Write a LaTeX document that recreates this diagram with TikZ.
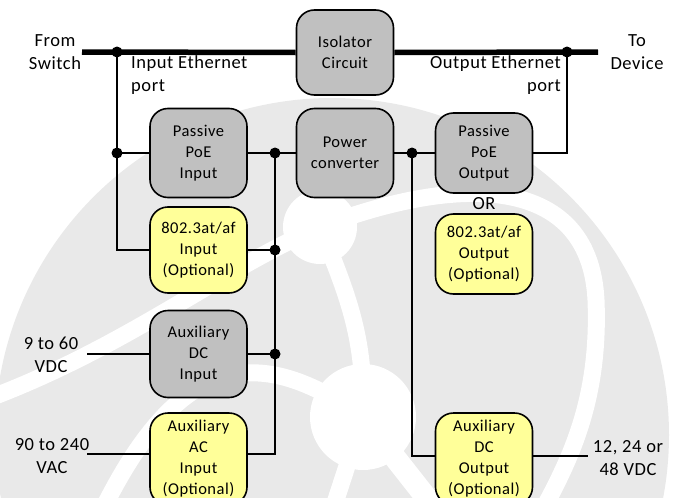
\documentclass[tikz,border=0pt]{standalone}
\usepackage{fontspec}
\setmainfont{Carlito}[LetterSpace=3]
\usetikzlibrary{positioning}
\definecolor{boxgrey}{RGB}{192,192,192}
\definecolor{boxyellow}{RGB}{255,255,153}
\definecolor{markgrey}{RGB}{233,233,233}
\newcommand{\boxfont}{\fontsize{16.5}{21}\selectfont}
\newcommand{\lblfont}{\fontsize{18.5}{23.5}\selectfont}

\begin{document}
\begin{tikzpicture}[x=1pt, y=-1pt,
  box/.style = {draw, line width=1.6pt, rounded corners=18pt, minimum width=97pt, align=center, inner sep=0pt, font=\boxfont},
  greybox/.style = {box, fill=boxgrey},
  yelbox/.style = {box, fill=boxyellow},
  lbl/.style = {align=center, inner sep=0pt, font=\lblfont},
  eth/.style = {line width=5.5pt},
  wire/.style = {line width=1.5pt},
  band/.style = {white, line width=17pt}]
\path[use as bounding box] (0,0) rectangle (678,498);
\clip (0,0) rectangle (678,498);
\fill[markgrey] (332,435) circle (337pt);
\draw[band] (320,227) .. controls (470,170) and (590,180) .. (596,300) .. controls (600,400) and (570,460) .. (540,515);
\draw[band] (320,227) .. controls (350,300) and (365,340) .. (363,417);
\draw[band] (320,227) .. controls (220,270) and (130,345) .. (-10,398);
\draw[band] (363,417) .. controls (260,345) and (180,350) .. (100,515);
\draw[band] (363,417) -- (331,515);
\draw[band, line width=22pt] (363,417) -- (440,515);
\fill[white] (320,227) circle (37pt);
\fill[white] (363,417) circle (53pt);
\node[greybox, minimum height=85pt] (iso) at (345,52.5) {Isolator\\Circuit};
\node[greybox, minimum height=89pt] (pin) at (198.5,153) {Passive\\PoE\\Input};
\node[greybox, minimum height=89pt] (conv) at (345,153) {Power\\converter};
\node[greybox, minimum height=80pt] (pout) at (484,153) {Passive\\PoE\\Output};
\node[yelbox, minimum height=86pt] (atin) at (198.5,250) {802.3at/af\\Input\\(Optional)};
\node[yelbox, minimum height=80pt] (atout) at (484,254) {802.3at/af\\Output\\(Optional)};
\node[greybox, minimum height=87pt] (dcin) at (198.5,354) {Auxiliary\\DC\\Input};
\node[yelbox, minimum height=92pt] (acin) at (198.5,459) {Auxiliary\\AC\\Input\\(Optional)};
\node[yelbox, minimum height=92pt] (dcout) at (484,459) {Auxiliary\\DC\\Output\\(Optional)};
\node[lbl] (from) at (55,52) {From\\Switch};
\node[lbl] (to) at (637,52) {To\\Device};
\node[lbl, align=left, anchor=west] (inport) at (131,75) {Input Ethernet\\port};
\node[lbl, align=right, anchor=east] (outport) at (561,75) {Output Ethernet\\port};
\node[lbl] (or) at (484,204) {OR};
\node[lbl] (vdc) at (51,355) {9 to 60\\VDC};
\node[lbl] (vac) at (52,456) {90 to 240\\VAC};
\node[lbl] (vout) at (628,458) {12, 24 or\\48 VDC};
\coordinate (ethl) at (82,52);
\coordinate (ethr) at (598,52);
\coordinate (j1) at (117,52);
\coordinate (j2) at (117,153);
\coordinate (j3) at (275,153);
\coordinate (j4) at (275,250);
\coordinate (j5) at (275,354);
\coordinate (j6) at (412,153);
\coordinate (j7) at (567,52);
\coordinate (acr) at (275,454);
\coordinate (dcl) at (412,456);
\coordinate (vdcl) at (87,354);
\coordinate (vacl) at (87,454);
\coordinate (voutr) at (588,456);
\draw[eth] (ethl) -- (iso.west);
\draw[eth] (iso.east) -- (ethr);
\draw[wire] (j1) |- (atin.west);
\draw[wire] (j2) -- (pin.west);
\draw[wire] (pin.east) -- (conv.west);
\draw[wire] (conv.east) -- (pout.west);
\draw[wire] (pout.east) -| (j7);
\draw[wire] (j3) -- (acr) -- (acr -| acin.east);
\draw[wire] (atin.east) -- (j4);
\draw[wire] (dcin.east) -- (j5);
\draw[wire] (j6) -- (dcl) -- (dcl -| dcout.west);
\draw[wire] (vdcl) -- (dcin.west);
\draw[wire] (vacl) -- (vacl -| acin.west);
\draw[wire] (dcl -| dcout.east) -- (voutr);
\foreach \j in {j1,j2,j3,j4,j5,j6,j7}
  \fill (\j) circle (5.5pt);
\end{tikzpicture}
\end{document}
